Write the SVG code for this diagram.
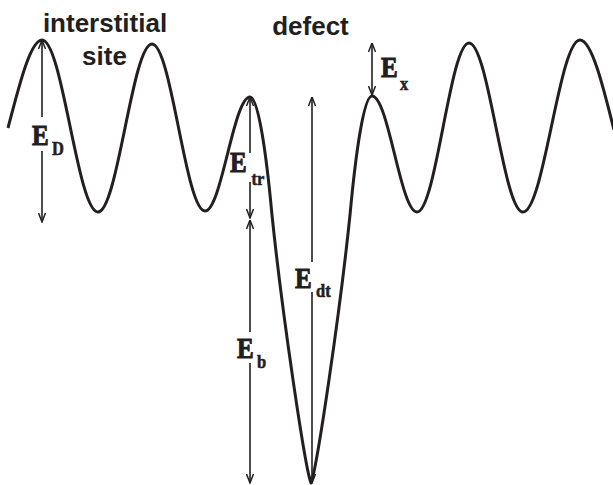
<svg xmlns="http://www.w3.org/2000/svg" width="613" height="485" viewBox="0 0 613 485">
<style>
.curve{fill:none;stroke:#231f20;stroke-width:3;stroke-linejoin:round}
.arr{fill:none;stroke:#231f20;stroke-width:1.6}
.ttl{font-family:"Liberation Sans",Arial,sans-serif;font-weight:bold;font-size:26px;fill:#231f20;text-anchor:middle}
.E{font-family:"Liberation Serif","Times New Roman",serif;font-weight:bold;font-size:25px;fill:#231f20;stroke:#231f20;stroke-width:0.9}
.s{font-family:"Liberation Serif","Times New Roman",serif;font-weight:bold;font-size:16.5px;fill:#231f20;stroke:#231f20;stroke-width:0.5}
</style>
<defs>
<marker id="ah" viewBox="0 0 10 8" refX="9.5" refY="4" markerWidth="10" markerHeight="8" markerUnits="userSpaceOnUse" orient="auto-start-reverse">
<path d="M0.5,0.5 L9.5,4 L0.5,7.5" fill="none" stroke="#231f20" stroke-width="1.5"/>
</marker>
</defs>
<rect width="613" height="485" fill="#ffffff"/>
<g id="potential">
<path class="curve" d="M8,128 C18,90 30,40 42,40 C62.4,40 77.6,212 98,212 C117.6,212 132.4,44 152,44 C171.3,44 185.7,211 205,211 C221.4,211 233.6,97 250,97 C258,97 266,150 272,215 C282,312 305,468 311,483 C317,468 340,312 350,215 C356,150 364,96 372,96 C388.4,96 400.6,212 417,212 C435.9,212 450.1,43 469,43 C488.6,43 503.4,212 523,212 C543.7,212 559.3,40 580,40 C592,40 604,90 614,130"/>
</g>
<g id="connectors">
<line class="arr" x1="42" y1="117" x2="42" y2="40" marker-end="url(#ah)"/>
<line class="arr" x1="42" y1="151" x2="42" y2="222" marker-end="url(#ah)"/>
<line class="arr" x1="250" y1="153" x2="250" y2="97" marker-end="url(#ah)"/>
<line class="arr" x1="250" y1="182" x2="250" y2="218" marker-end="url(#ah)"/>
<line class="arr" x1="250" y1="332" x2="250" y2="220" marker-end="url(#ah)"/>
<line class="arr" x1="250" y1="363" x2="250" y2="483" marker-end="url(#ah)"/>
<line class="arr" x1="312" y1="262" x2="312" y2="97" marker-end="url(#ah)"/>
<line class="arr" x1="312" y1="292" x2="312" y2="483" marker-end="url(#ah)"/>
<line class="arr" x1="372" y1="43" x2="372" y2="95" marker-start="url(#ah)" marker-end="url(#ah)"/>
</g>
<g id="title-interstitial">
<text class="ttl" x="105" y="32">interstitial</text>
<text class="ttl" x="104.5" y="65">site</text>
</g>
<g id="title-defect">
<text class="ttl" x="310.5" y="35">defect</text>
</g>
<g id="label-ED" transform="translate(32,145) scale(1,1.18)">
<text class="E" x="0" y="0">E</text><text class="s" x="20" y="8.5">D</text>
</g>
<g id="label-Etr" transform="translate(230,172) scale(1,1.18)">
<text class="E" x="0" y="0">E</text><text class="s" x="21.5" y="11">tr</text>
</g>
<g id="label-Eb" transform="translate(237,358) scale(1,1.18)">
<text class="E" x="0" y="0">E</text><text class="s" x="20" y="8.5">b</text>
</g>
<g id="label-Edt" transform="translate(295,288) scale(1,1.18)">
<text class="E" x="0" y="0">E</text><text class="s" x="21" y="7.6">dt</text>
</g>
<g id="label-Ex" transform="translate(381,77) scale(1,1.18)">
<text class="E" x="0" y="0">E</text><text class="s" x="19" y="11">x</text>
</g>
</svg>
